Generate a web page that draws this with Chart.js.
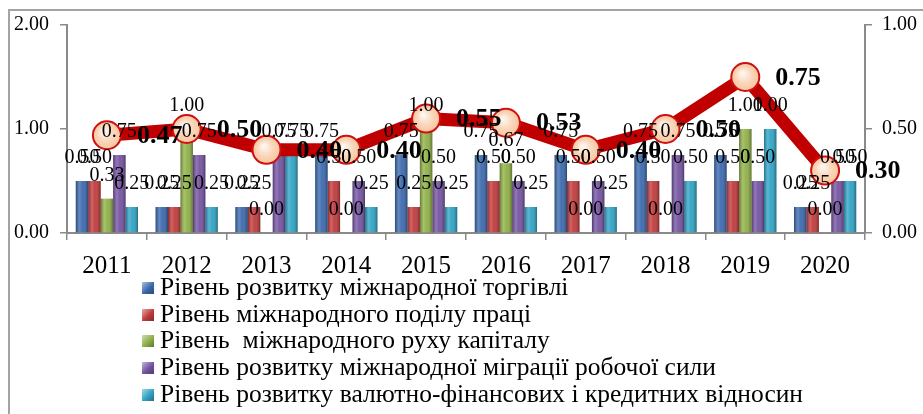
<!DOCTYPE html>
<html>
<head>
<meta charset="utf-8">
<script src="https://cdn.jsdelivr.net/npm/chart.js@4.4.1/dist/chart.umd.min.js"></script>
<style>
  html, body { margin: 0; padding: 0; background: #fff; }
  #wrap { position: relative; width: 923px; height: 414px; overflow: hidden; }
  #frame { position: absolute; left: 8px; top: 9px; width: 940px; height: 440px; border: 2px solid #a3a3a3; box-sizing: border-box; pointer-events: none; }
  #legend { position: absolute; left: 142px; top: 274px; font-family: "Liberation Serif", serif; font-size: 25.5px; color: #000; }
  #legend div { height: 26.7px; line-height: 26.7px; white-space: pre; }
  #legend span.box { display: inline-block; width: 12px; height: 12px; margin-right: 6px; vertical-align: 1px; }
</style>
</head>
<body>
<div id="wrap">
  <canvas id="chart" width="923" height="414"></canvas>
  <div id="frame"></div>
  <div id="legend"></div>
</div>
<script>
// Data ---------------------------------------------------------------------
const years = ['2011', '2012', '2013', '2014', '2015', '2016', '2017', '2018', '2019', '2020'];
const trade     = [0.50, 0.25, 0.25, 0.75, 0.75, 0.75, 0.75, 0.75, 0.75, 0.25];
const labour    = [0.50, 0.25, 0.25, 0.50, 0.25, 0.50, 0.50, 0.50, 0.50, 0.25];
const capital   = [0.33, 1.00, 0.00, 0.00, 1.00, 0.67, 0.00, 0.00, 1.00, 0.00];
const migration = [0.75, 0.75, 0.75, 0.50, 0.50, 0.50, 0.50, 0.75, 0.50, 0.50];
const finance   = [0.25, 0.25, 0.75, 0.25, 0.25, 0.25, 0.25, 0.50, 1.00, 0.50];
const integral  = [0.47, 0.50, 0.40, 0.40, 0.55, 0.53, 0.40, 0.50, 0.75, 0.30];

const seriesNames = [
    'Рівень розвитку міжнародної торгівлі',
    'Рівень міжнародного поділу праці',
    'Рівень  міжнародного руху капіталу',
    'Рівень розвитку міжнародної міграції робочої сили',
    'Рівень розвитку валютно-фінансових і кредитних відносин'
];
const seriesColors = ['#3a68ad', '#c0393b', '#8fb046', '#7352a0', '#2fa3c4'];
const leftTicks = [0, 1, 2];
const rightTicks = [0, 0.5, 1];

const axisGray = '#8a8a8a';
const serif = '"Liberation Serif", "Times New Roman", serif';

// Bars shading + marker highlight (fake 3D look) ------------------------------
const shading = {
    id: 'shading',
    afterDatasetDraw(chart, args) {
        const meta = args.meta;
        const ctx = chart.ctx;
        ctx.save();
        if (meta.type === 'bar') {
            meta.data.forEach(el => {
                const h = el.base - el.y;
                if (h <= 0) return;
                const x0 = el.x - el.width / 2;
                const g = ctx.createLinearGradient(x0, 0, x0 + el.width, 0);
                g.addColorStop(0, 'rgba(0,0,0,0.30)');
                g.addColorStop(0.3, 'rgba(255,255,255,0.22)');
                g.addColorStop(0.55, 'rgba(255,255,255,0.05)');
                g.addColorStop(1, 'rgba(0,0,0,0.35)');
                ctx.fillStyle = g;
                ctx.fillRect(x0, el.y, el.width, h);
            });
        } else {
            meta.data.forEach(el => {
                const g = ctx.createRadialGradient(el.x - 3, el.y - 4, 1, el.x, el.y, 13);
                g.addColorStop(0, 'rgba(255,255,255,0.85)');
                g.addColorStop(0.6, 'rgba(255,255,255,0.25)');
                g.addColorStop(1, 'rgba(255,255,255,0)');
                ctx.fillStyle = g;
                ctx.beginPath();
                ctx.arc(el.x, el.y, 13, 0, Math.PI * 2);
                ctx.fill();
            });
        }
        ctx.restore();
    }
};

// Value labels ---------------------------------------------------------------
const valueLabels = {
    id: 'valueLabels',
    afterDatasetsDraw(chart) {
        const ctx = chart.ctx;
        ctx.save();
        ctx.fillStyle = '#000';
        chart.data.datasets.forEach((ds, i) => {
            const meta = chart.getDatasetMeta(i);
            meta.data.forEach((el, j) => {
                const txt = ds.data[j].toFixed(2);
                if (meta.type === 'bar') {
                    ctx.font = '20px ' + serif;
                    ctx.textAlign = 'center';
                    ctx.textBaseline = 'middle';
                    ctx.fillText(txt, el.x, el.y - 23);
                } else {
                    ctx.font = 'bold 26px ' + serif;
                    ctx.textAlign = 'left';
                    ctx.textBaseline = 'middle';
                    ctx.fillText(txt, el.x + 30, el.y + 1);
                }
            });
        });
        ctx.restore();
    }
};

const ctx = document.getElementById('chart').getContext('2d');

const barSets = [trade, labour, capital, migration, finance].map((d, i) => ({
    type: 'bar',
    label: seriesNames[i],
    data: d,
    backgroundColor: seriesColors[i],
    borderWidth: 0,
    categoryPercentage: 0.78,
    barPercentage: 1.0,
    yAxisID: 'y',
    order: 2
}));

new Chart(ctx, {
    data: {
        labels: years,
        datasets: [
            ...barSets,
            {
                type: 'line',
                label: 'Інтегральний показник',
                data: integral,
                yAxisID: 'y1',
                borderColor: '#c00000',
                borderWidth: 13,
                pointRadius: 14,
                pointBackgroundColor: '#f8c8a2',
                pointBorderColor: '#d01010',
                pointBorderWidth: 2,
                tension: 0,
                order: 1
            }
        ]
    },
    options: {
        responsive: false,
        animation: false,
        layout: { padding: { top: 25, left: 0, right: 0, bottom: 0 } },
        plugins: {
            legend: { display: false },
            tooltip: { enabled: false }
        },
        scales: {
            x: {
                offset: true,
                grid: { offset: true, drawOnChartArea: false, color: axisGray, tickLength: 7, lineWidth: 1.5 },
                border: { color: axisGray, width: 2 },
                ticks: { color: '#000', font: { family: serif, size: 25 }, padding: 11 },
                afterFit: s => { s.height = 181; }
            },
            y: {
                position: 'left',
                min: 0, max: 2,
                afterBuildTicks: s => { s.ticks = leftTicks.map(v => ({ value: v })); },
                grid: { drawOnChartArea: false, color: axisGray, tickLength: 7, lineWidth: 1.5 },
                border: { color: axisGray, width: 2 },
                ticks: { color: '#000', font: { family: serif, size: 20 }, padding: 11, callback: v => v.toFixed(2) },
                afterFit: s => { s.width = 67; }
            },
            y1: {
                position: 'right',
                min: 0, max: 1,
                afterBuildTicks: s => { s.ticks = rightTicks.map(v => ({ value: v })); },
                grid: { drawOnChartArea: false, color: axisGray, tickLength: 7, lineWidth: 1.5 },
                border: { color: axisGray, width: 2 },
                ticks: { color: '#000', font: { family: serif, size: 20 }, padding: 10, callback: v => v.toFixed(2) },
                afterFit: s => { s.width = 58; }
            }
        }
    },
    plugins: [shading, valueLabels]
});

// Legend (HTML) ---------------------------------------------------------------
const legend = document.getElementById('legend');
seriesNames.forEach((name, i) => {
    const row = document.createElement('div');
    const box = document.createElement('span');
    box.className = 'box';
    box.style.background = 'linear-gradient(135deg, #fff -40%, ' + seriesColors[i] + ' 55%, #222 160%)';
    row.appendChild(box);
    row.appendChild(document.createTextNode(name));
    legend.appendChild(row);
});
</script>
</body>
</html>
